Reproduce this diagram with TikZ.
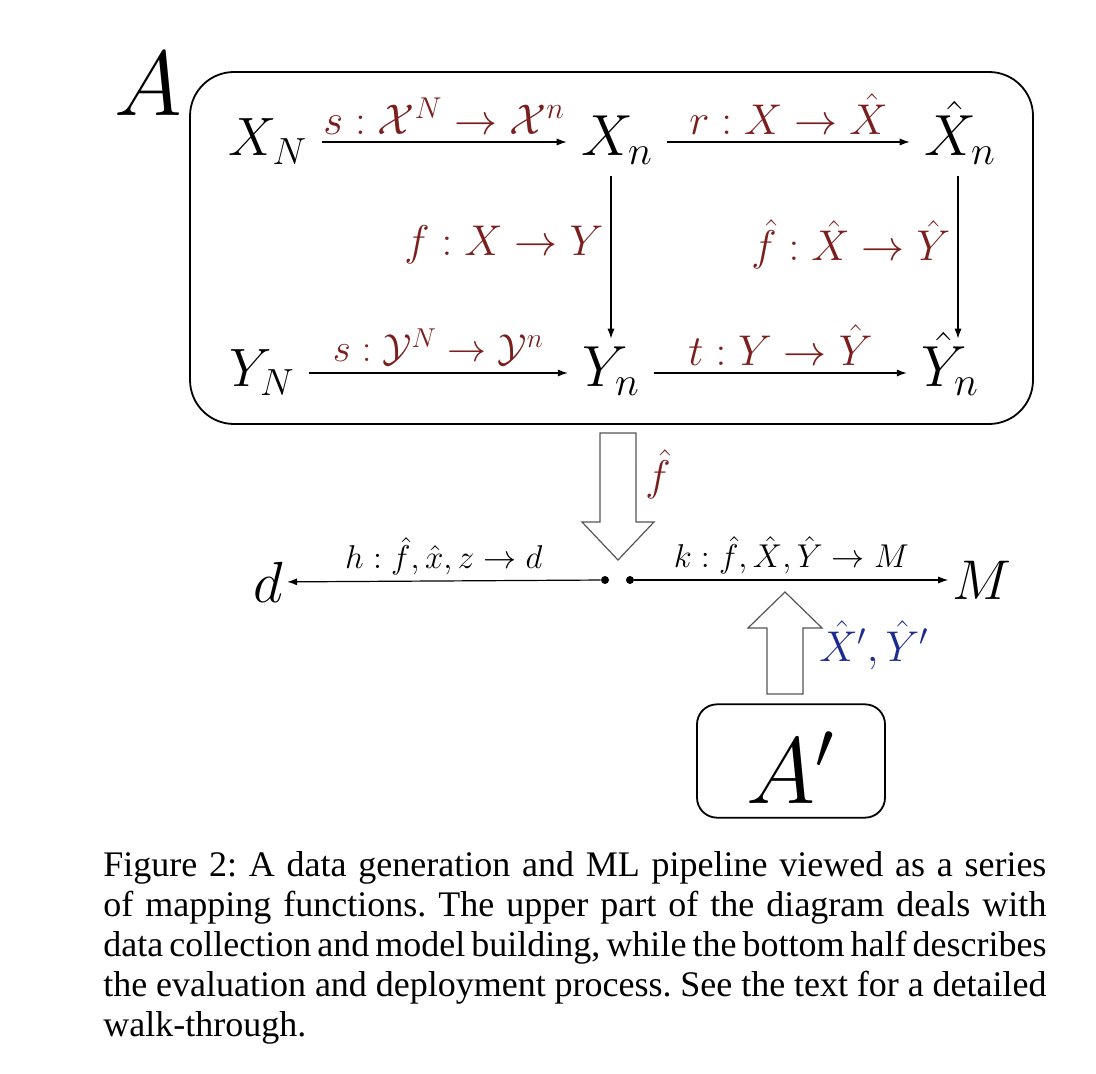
\RequirePackage{fix-cm}
\documentclass[tikz,border=0pt]{standalone}
\usepackage{fontspec}
\newfontfamily\captionfont{Liberation Serif}
\usetikzlibrary{arrows.meta,calc}
\definecolor{mapRed}{HTML}{7B1E1E}
\definecolor{mapBlue}{HTML}{1B2B8F}
\definecolor{hollowGray}{HTML}{555555}
\tikzset{
  >={Latex[length=5pt,width=3.6pt]},
  sym/.style={inner xsep=7pt,inner ysep=3pt,font=\fontsize{29}{32}\selectfont,text height=21pt,text depth=7pt},
  symsmall/.style={sym,font=\fontsize{27}{30}\selectfont},
  maparrow/.style={->,line width=0.6pt},
  maplabel/.style={font=\fontsize{21.5}{24}\selectfont,text=mapRed,inner sep=3.5pt},
  evallabel/.style={font=\fontsize{16.5}{19}\selectfont,inner sep=2.5pt},
  hollow/.style={draw=hollowGray,line width=0.6pt,fill=white},
  joint/.style={circle,fill=black,inner sep=0pt,minimum size=4pt},
  sysbox/.style={draw,line width=0.9pt},
}

\begin{document}
\begin{tikzpicture}[x=0.5pt,y=-0.5pt]
  \useasboundingbox (0,0) rectangle (1096,1074);

  % system A
  \node[sysbox,rounded corners=22pt,minimum width=421.5pt,minimum height=176pt] (sysA) at (611.5,248) {};
  \node[font=\fontsize{46}{50}\selectfont,inner sep=0pt] (labA) at (148,84) {$A$};

  \node[symsmall] (xN) at (268,142) {$X_N$};
  \node[sym] (xn) at (617,142) {$X_n$};
  \node[sym] (xhn) at (960,142) {$\hat{X}_n$};
  \node[symsmall] (yN) at (262,373) {$Y_N$};
  \node[sym] (yn) at (611,373) {$Y_n$};
  \node[sym] (yhn) at (950,373) {$\hat{Y}_n$};

  \draw[maparrow] (xN) -- node[maplabel,above] {$s:\mathcal{X}^N\to\mathcal{X}^n$} (xn);
  \draw[maparrow] (xn) -- node[maplabel,above] {$r:X\to\hat{X}$} (xhn);
  \draw[maparrow] (yN) -- node[maplabel,above,font=\fontsize{19.5}{22}\selectfont] {$s:\mathcal{Y}^N\to\mathcal{Y}^n$} (yn);
  \draw[maparrow] (yn) -- node[maplabel,above] {$t:Y\to\hat{Y}$} (yhn);
  \draw[maparrow] ([xshift=-3pt]xn.south) -- ([xshift=-3pt]xn.south |- yn.north)
    node[maplabel,left,pos=0.42] {$f:X\to Y$};
  \draw[maparrow] ([xshift=-1pt]xhn.south) -- ([xshift=-1pt]xhn.south |- yhn.north)
    node[maplabel,left,pos=0.42] {$\hat{f}:\hat{X}\to\hat{Y}$};

  % model handed down
  \draw[hollow] (600,433) -- (636,433) -- (636,522) -- (654,522) -- (618,560)
    -- (582,522) -- (600,522) -- cycle;
  \node[maplabel] (fhat) at (658,474) {$\hat{f}$};

  % evaluation and deployment
  \node[joint] (jl) at (605,580) {};
  \node[joint] (jr) at (630,580) {};
  \node[font=\fontsize{29}{32}\selectfont,inner sep=2pt] (dout) at (268,582) {$d$};
  \node[font=\fontsize{28}{31}\selectfont,inner sep=2pt] (mout) at (982,580) {$M$};
  \draw[maparrow] (jl) -- node[evallabel,above] {$h:\hat{f},\hat{x},z\to d$} (dout);
  \draw[maparrow] (jr) -- node[evallabel,above] {$k:\hat{f},\hat{X},\hat{Y}\to M$} (mout);

  % new data from A'
  \draw[hollow] (767,694) -- (803,694) -- (803,628) -- (822,628) -- (785,592)
    -- (748,628) -- (767,628) -- cycle;
  \node[maplabel,text=mapBlue] (newdata) at (874,645) {$\hat{X}',\hat{Y}'$};
  \node[sysbox,rounded corners=10pt,minimum width=94pt,minimum height=56.5pt,
        font=\fontsize{47}{50}\selectfont,text height=46pt,text depth=4pt] (sysAp) at (791,761) {$A'$};

  % caption
  \node[anchor=north west,text width=471.5pt,align=justify,inner sep=0pt,
        font=\captionfont\fontsize{18}{20}\selectfont\frenchspacing] (cap) at (103,851)
    {Figure 2: A data generation and ML pipeline viewed as a series\linebreak
     of mapping functions. The upper part of the diagram deals with\linebreak
     data collection and model building, while the bottom half describes\linebreak
     the evaluation and deployment process. See the text for a detailed\linebreak
     walk-through.};
\end{tikzpicture}
\end{document}
